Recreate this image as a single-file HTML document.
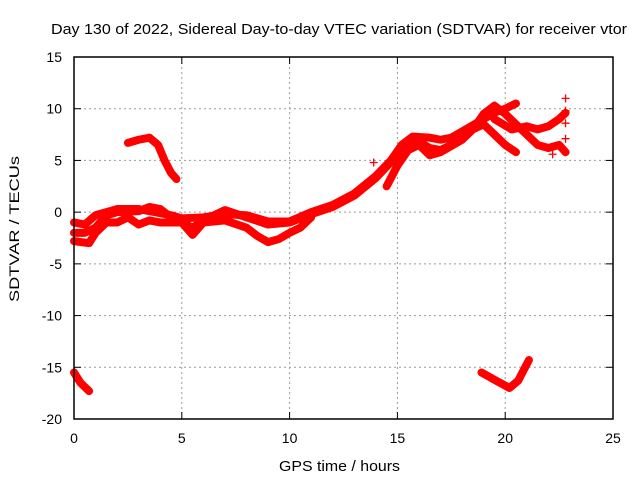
<!DOCTYPE html>
<html><head><meta charset="utf-8"><style>
body{margin:0;background:#fff}
svg{display:block;font-family:"Liberation Sans",sans-serif}
</style></head><body>
<svg id="chart" width="640" height="480">
<text x="51" y="34" font-size="15" textLength="576" lengthAdjust="spacingAndGlyphs">Day 130 of 2022, Sidereal Day-to-day VTEC variation (SDTVAR) for receiver vtor</text>
<g id="grid"></g>
<g id="ticks"></g>
<g id="series"></g>
<rect x="74" y="57" width="539" height="362" fill="none" stroke="#000" stroke-width="1.5"/>
<text x="279" y="471" font-size="15" textLength="121" lengthAdjust="spacingAndGlyphs">GPS time / hours</text>
<text transform="translate(19,302) rotate(-90)" font-size="14" textLength="146" lengthAdjust="spacingAndGlyphs">SDTVAR / TECUs</text>
</svg>
<script>
const xTicks=[0,5,10,15,20,25];
const yTicks=[15,10,5,0,-5,-10,-15,-20];
const trackArc=[[2.5,6.7],[3.0,7.0],[3.5,7.2],[3.9,6.5],[4.2,5.0],[4.5,3.8],[4.75,3.2]];
const trackEarly=[[0,-15.5],[0.3,-16.5],[0.7,-17.3]];
const trackLate=[[18.9,-15.5],[19.5,-16.2],[20.2,-17.0],[20.6,-16.3],[21.1,-14.3]];
const trackA=[[0,-1],[0.5,-1.2],[1,-0.3],[2,0.3],[3,0.3],[4,-0.1],[4.5,-0.3],[5,-0.6],[6,-0.5],[7,-0.2],[8,-0.3],[9,-0.9],[10,-0.9],[11,0],[12,0.7],[13,1.8],[14,3.5],[14.7,5],[15.2,6.5],[15.7,7.3],[16.5,7.2],[17,7.0],[17.5,7.2],[18,7.8],[18.5,8.4],[19,9.0],[19.6,9.7],[20,10.0],[20.5,10.5]];
const trackB=[[0,-2],[0.5,-2],[1,-1.5],[1.5,-0.3],[2,0],[3,0.1],[3.5,0.5],[4,0.3],[4.5,-0.5],[5,-1],[5.5,-1.5],[6,-0.8],[7,0.2],[8,-0.5],[9,-1.2],[10,-1.0],[11,-0.2],[12,0.5],[13,1.6],[14,3.3],[15,5.5],[15.5,6.5],[16,6.8],[16.5,6.2],[17,6.0],[17.5,6.5],[18,7.5],[18.5,8.0],[19,8.5],[19.5,7.5],[20,6.5],[20.5,5.8]];
const trackC=[[0,-2.8],[0.7,-3],[1,-2],[1.5,-1],[2,-1],[2.5,-0.5],[3,-1.2],[3.5,-0.8],[4,-1],[5,-1],[5.5,-2.2],[6,-1],[7,-0.8],[8,-1.5],[8.5,-2.3],[9,-2.9],[9.5,-2.6],[10,-2],[10.5,-1.5],[11,-0.5]];
const trackD=[[14.5,2.5],[15,4.5],[15.5,6],[16,6.5],[16.5,5.5],[17,5.8],[18,7],[18.5,8],[19,9.5],[19.5,10.3],[20,9.5],[20.5,8.5],[21,7.5],[21.5,6.5],[22,6.2],[22.5,6.5],[22.8,5.8]];
const trackE=[[19.5,9.0],[20.3,8.0],[21,8.3],[21.5,8.0],[22,8.3],[22.5,9],[22.8,9.6]];
const endMarks=[[22.8,11],[22.8,9.8],[22.8,8.6],[22.8,7.1],[22.8,5.8],[13.9,4.8],[22.2,5.6]];
const tracks=[trackArc,trackEarly,trackLate,trackA,trackB,trackC,trackD,trackE];

const NS="http://www.w3.org/2000/svg";
const X=h=>74+h*539/25;
const Y=v=>57+(15-v)*362/35;
const grid=document.getElementById('grid'),ticks=document.getElementById('ticks'),ser=document.getElementById('series');
function mk(tag,attrs,parent){const e=document.createElementNS(NS,tag);for(const k in attrs)e.setAttribute(k,attrs[k]);parent.appendChild(e);return e;}
xTicks.forEach(t=>{
  const x=X(t);
  if(t>0&&t<25){const g=mk('line',{x1:x,x2:x,y1:57,y2:419,stroke:'#999','stroke-dasharray':'2,3'},grid);
  
  }
  mk('line',{x1:x,x2:x,y1:419,y2:412,stroke:'#000'},ticks);
  mk('line',{x1:x,x2:x,y1:57,y2:64,stroke:'#000'},ticks);
  const l=mk('text',{x:x,y:443,'text-anchor':'middle','font-size':14},ticks);l.textContent=t;
  
  
});
yTicks.forEach(t=>{
  const y=Y(t);
  if(t<15&&t>-20){const g=mk('line',{x1:74,x2:613,y1:y,y2:y,stroke:'#999','stroke-dasharray':'2,3'},grid);
  
  }
  mk('line',{x1:74,x2:81,y1:y,y2:y,stroke:'#000'},ticks);
  mk('line',{x1:606,x2:613,y1:y,y2:y,stroke:'#000'},ticks);
  const l=mk('text',{x:62,y:y+5,'text-anchor':'end','font-size':14},ticks);l.textContent=t;
  
  
});
tracks.forEach(tr=>{
  const p=mk('polyline',{points:tr.map(d=>X(d[0])+','+Y(d[1])).join(' '),fill:'none',stroke:'#f00','stroke-width':8,'stroke-linejoin':'round','stroke-linecap':'round'},ser);
  
  
});
endMarks.forEach(d=>{
  const x=X(d[0]),y=Y(d[1]);
  const m=mk('path',{d:`M${x-4},${y}H${x+4}M${x},${y-4}V${y+4}`,stroke:'#f00','stroke-width':1.3},ser);
  
  
});
</script>
</body></html>
